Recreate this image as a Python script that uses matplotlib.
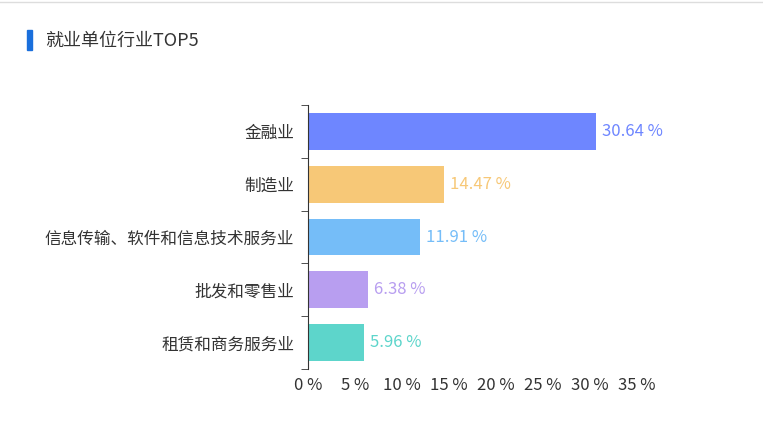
import matplotlib
matplotlib.use("Agg")
import matplotlib.pyplot as plt
from matplotlib.ticker import FixedLocator

plt.rcParams['font.family'] = ['Noto Sans CJK SC', 'DejaVu Sans']

# datos
industrias = ["金融业", "制造业", "信息传输、软件和信息技术服务业", "批发和零售业", "租赁和商务服务业"]
porcentajes = [30.64, 14.47, 11.91, 6.38, 5.96]
colores = ["#6e86ff", "#f7c877", "#75bdf8", "#b89ef0", "#5dd5cb"]
ticks_x = [0, 5, 10, 15, 20, 25, 30, 35]

fig = plt.figure(figsize=(7.63, 4.28), dpi=100)
ax = fig.add_axes([308/763, 1-369/428, (637-308)/763, (369-105)/428])

pos = list(range(len(industrias)))
ax.barh(pos, porcentajes, height=0.7, color=colores)
for p, v, c in zip(pos, porcentajes, colores):
    ax.text(v + 0.6, p, f"{v:.2f} %", color=c, va="center", ha="left", fontsize=12)

ax.set_ylim(len(industrias) - 0.5, -0.5)
ax.set_xlim(0, 35)
ax.set_yticks(pos)
ax.set_yticklabels(industrias, fontsize=12, color="#333333")
ax.tick_params(axis="y", which="major", length=0, pad=10)
ax.yaxis.set_minor_locator(FixedLocator([i - 0.5 for i in range(len(industrias) + 1)]))
ax.tick_params(axis="y", which="minor", length=5, color="#333333")
ax.set_xticks(ticks_x)
ax.set_xticklabels([f"{t} %" for t in ticks_x], fontsize=12, color="#333333")
ax.tick_params(axis="x", length=0, pad=6)
for s in ["top", "right", "bottom"]:
    ax.spines[s].set_visible(False)
ax.spines["left"].set_color("#333333")

# titulo y marco
fig.patches.append(plt.Rectangle((27/763, 1-50/428), 5/763, 20/428, transform=fig.transFigure, color="#1a6fdc"))
fig.text(45/763, 1-41/428, "就业单位行业TOP5", fontsize=13, color="#333333", va="center")
fig.lines.append(plt.Line2D([0, 1], [1-2/428, 1-2/428], transform=fig.transFigure, color="#dddddd", lw=1))

fig.savefig("out.png", dpi=100)
